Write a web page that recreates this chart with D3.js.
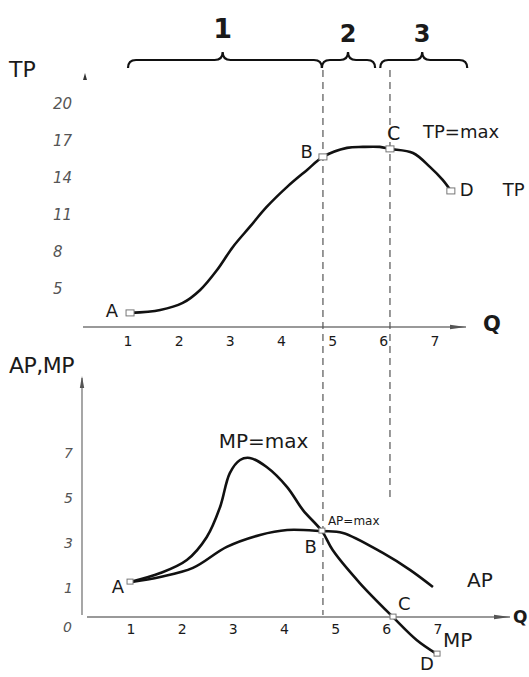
<!DOCTYPE html>
<html lang="en">
<head>
    <meta charset="UTF-8">
    <title>TP AP MP</title>
    <script src="https://d3js.org/d3.v7.min.js"></script>
<style>
    body { margin: 0; background: #fff; }
    text { font-family: "DejaVu Sans", sans-serif; fill: #1a1a1a; }
    .curve { fill: none; stroke: #111; stroke-width: 2.6px; }
    .axis { stroke: #777; stroke-width: 1.3px; fill: none; }
    .dash { stroke: #555; stroke-width: 1.2px; stroke-dasharray: 7,5; fill: none; }
    .mark { fill: #fff; stroke: #777; stroke-width: 1px; }
    .ytick { font-style: italic; fill: #555; }
</style>
</head>
<body>
    <svg id="canvas" width="529" height="677"></svg>

    <script>
        // data (Q, value)
        var tpQ   = [1.04, 1.63, 2.07, 2.41, 2.74, 3.05, 3.38, 3.71, 4.11, 4.50, 4.81, 5.28, 5.59, 5.92, 6.12, 6.57, 6.90, 7.15, 7.31];
        var tpVal = [2.98, 3.22, 3.79, 4.84, 6.46, 8.33, 9.95, 11.57, 13.2, 14.57, 15.63, 16.36, 16.44, 16.44, 16.28, 15.95, 14.82, 13.76, 12.87];

        var mpQ   = [1.04, 1.63, 2.15, 2.54, 2.80, 2.99, 3.19, 3.38, 3.71, 4.11, 4.42, 4.79, 5.00, 5.53, 6.18, 6.64, 7.04];
        var mpVal = [1.28, 1.68, 2.26, 3.28, 4.61, 6.11, 6.69, 6.78, 6.38, 5.49, 4.47, 3.54, 2.70, 1.24, -0.27, -1.28, -1.91];

        var apQ   = [1.04, 1.63, 2.27, 2.93, 3.58, 4.11, 4.79, 5.20, 5.98, 6.51, 6.96];
        var apVal = [1.28, 1.51, 1.91, 2.84, 3.37, 3.59, 3.54, 3.46, 2.57, 1.82, 1.06];

        var qTicks = [1, 2, 3, 4, 5, 6, 7];
        var tpTicks = [20, 17, 14, 11, 8, 5];
        var apTicks = [7, 5, 3, 1];

        // special points
        var tpPoints = [{n: "A", i: 0}, {n: "B", i: 10}, {n: "C", i: 14}, {n: "D", i: 18}];
        var qB = 4.81, qC = 6.12;
        var stages = [{label: "1", from: 1.0, to: 4.79, tip: 2.85},
                      {label: "2", from: 4.79, to: 5.83, tip: 5.3},
                      {label: "3", from: 5.93, to: 7.63, tip: 6.75}];

        var svg = d3.select('svg');

        var x = d3.scaleLinear().domain([1, 7]).range([128, 435]);
        var yTop = d3.scaleLinear().domain([5, 20]).range([288, 103]);
        var yBot = d3.scaleLinear().domain([0, 7]).range([611, 453]);

        var topAxisY = 327, botAxisY = 617;

        function zip(qs, vs) { return qs.map(function(q, i){ return [q, vs[i]]; }); }

        // ---------- axes ----------
        function arrowRight(x0, x1, y) {
            svg.append("line").attr("class", "axis")
                .attr("x1", x0).attr("x2", x1).attr("y1", y).attr("y2", y);
            svg.append("path").attr("fill", "#555")
                .attr("d", "M" + x1 + "," + y + " l-16,-2.2 l0,4.4 z");
        }
        arrowRight(83, 466, topAxisY);
        arrowRight(87, 510, botAxisY);

        // top y axis: only its arrow tip shows
        svg.append("path").attr("fill", "#333")
            .attr("d", "M85,73 l-2,7 l4,0 z");

        // bottom y axis
        svg.append("line").attr("class", "axis")
            .attr("x1", 82).attr("x2", 82).attr("y1", 378).attr("y2", 615);
        svg.append("path").attr("fill", "#555")
            .attr("d", "M82,376 l-2.2,12 l4.4,0 z");

        // x tick labels
        svg.selectAll(".qt1").data(qTicks).enter().append("text")
            .attr("x", function(d){ return x(d); }).attr("y", topAxisY + 19)
            .attr("text-anchor", "middle").attr("font-size", 14)
            .text(function(d){ return d; });
        svg.selectAll(".qt2").data(qTicks).enter().append("text")
            .attr("x", function(d){ return x(d) + 3; }).attr("y", botAxisY + 17)
            .attr("text-anchor", "middle").attr("font-size", 14)
            .text(function(d){ return d; });

        // y tick labels
        svg.selectAll(".tt").data(tpTicks).enter().append("text")
            .attr("class", "ytick")
            .attr("x", 53).attr("y", function(d){ return yTop(d) + 6; })
            .attr("font-size", 15)
            .text(function(d){ return d; });
        svg.selectAll(".at").data(apTicks).enter().append("text")
            .attr("class", "ytick")
            .attr("x", 64).attr("y", function(d){ return yBot(d) + 5; })
            .attr("font-size", 14)
            .text(function(d){ return d; });
        svg.append("text").attr("class", "ytick")
            .attr("x", 63).attr("y", botAxisY + 15).attr("font-size", 14).text("0");

        // axis titles
        svg.append("text").attr("x", 9).attr("y", 77).attr("font-size", 22).text("TP");
        svg.append("text").attr("x", 483).attr("y", 331).attr("font-size", 21)
            .attr("font-weight", "bold").text("Q");
        svg.append("text").attr("x", 9).attr("y", 373).attr("font-size", 22)
            .attr("letter-spacing", "-0.5").text("AP,MP");
        svg.append("text").attr("x", 513).attr("y", 623).attr("font-size", 17)
            .attr("font-weight", "bold").text("Q");

        // ---------- dashed guides ----------
        svg.append("line").attr("class", "dash")
            .attr("x1", x(qB)).attr("x2", x(qB)).attr("y1", 70).attr("y2", botAxisY - 2);
        svg.append("line").attr("class", "dash")
            .attr("x1", x(qC)).attr("x2", x(qC)).attr("y1", 70).attr("y2", 498);

        // ---------- braces ----------
        function brace(x1, x2, xm, y) {
            var h = 8;
            return "M" + x1 + "," + (y + h) +
                " Q" + x1 + "," + y + " " + (x1 + h) + "," + y +
                " L" + (xm - h) + "," + y +
                " Q" + xm + "," + y + " " + xm + "," + (y - h) +
                " Q" + xm + "," + y + " " + (xm + h) + "," + y +
                " L" + (x2 - h) + "," + y +
                " Q" + x2 + "," + y + " " + x2 + "," + (y + h);
        }
        var br = svg.selectAll(".brace").data(stages).enter().append("g");
        br.append("path")
            .attr("fill", "none").attr("stroke", "#111").attr("stroke-width", 2.2)
            .attr("d", function(d){ return brace(x(d.from), x(d.to), x(d.tip), 60); });
        br.append("text")
            .attr("x", function(d){ return x(d.tip); })
            .attr("y", function(d){ return d.label === "1" ? 38 : 42; })
            .attr("text-anchor", "middle").attr("font-weight", "bold")
            .attr("font-size", function(d){ return d.label === "1" ? 27 : 24; })
            .text(function(d){ return d.label; });

        // ---------- curves ----------
        var lineTop = d3.line()
            .x(function(d){ return x(d[0]); })
            .y(function(d){ return yTop(d[1]); })
            .curve(d3.curveCatmullRom.alpha(0.5));
        var lineBot = d3.line()
            .x(function(d){ return x(d[0]); })
            .y(function(d){ return yBot(d[1]); })
            .curve(d3.curveCatmullRom.alpha(0.5));

        svg.append("path").attr("class", "curve").attr("d", lineTop(zip(tpQ, tpVal)));
        svg.append("path").attr("class", "curve").attr("d", lineBot(zip(apQ, apVal)));
        svg.append("path").attr("class", "curve").attr("d", lineBot(zip(mpQ, mpVal)));

        // markers on TP
        svg.selectAll(".tpm").data(tpPoints).enter().append("rect")
            .attr("class", "mark")
            .attr("x", function(d){ return x(tpQ[d.i]) - 4; })
            .attr("y", function(d){ return yTop(tpVal[d.i]) - 3; })
            .attr("width", 8).attr("height", 6);

        // labels on TP
        function tpLabel(i, t, dx, dy, size, anchor) {
            svg.append("text")
                .attr("x", x(tpQ[i]) + dx).attr("y", yTop(tpVal[i]) + dy)
                .attr("font-size", size).attr("text-anchor", anchor || "start")
                .text(t);
        }
        tpLabel(0, "A", -12, 4, 18, "end");
        tpLabel(10, "B", -10, 1, 18, "end");
        tpLabel(14, "C", -3, -9, 19);
        tpLabel(14, "TP=max", 33, -11, 18);
        tpLabel(18, "D", 9, 5, 18);
        tpLabel(18, "TP", 52, 5, 18);

        // marks and labels on AP / MP
        var botPts = [[apQ[0], apVal[0]], [mpQ[11], mpVal[11]], [mpQ[14], mpVal[14]], [mpQ[16], mpVal[16]]];
        svg.selectAll(".bm").data(botPts).enter().append("rect")
            .attr("class", "mark")
            .attr("x", function(d){ return x(d[0]) - 3; })
            .attr("y", function(d){ return yBot(d[1]) - 3; })
            .attr("width", 6).attr("height", 5);

        function botLabel(q, v, t, dx, dy, size, anchor) {
            svg.append("text")
                .attr("x", x(q) + dx).attr("y", yBot(v) + dy)
                .attr("font-size", size).attr("text-anchor", anchor || "start")
                .text(t);
        }
        botLabel(apQ[0], apVal[0], "A", -6, 11, 18, "end");
        botLabel(mpQ[11], mpVal[11], "B", -5, 22, 18, "end");
        botLabel(mpQ[11], mpVal[11], "AP=max", 6, -6, 12);
        botLabel(mpQ[14], mpVal[14], "C", 5, -7, 18);
        botLabel(mpQ[16], mpVal[16], "D", -17, 16, 18);
        botLabel(mpQ[16], mpVal[16], "MP", 6, -7, 20);
        botLabel(mpQ[7], mpVal[7], "MP=max", -31, -10, 20);
        botLabel(apQ[10], apVal[10], "AP", 34, 0, 20);
    </script>
</body>
</html>
